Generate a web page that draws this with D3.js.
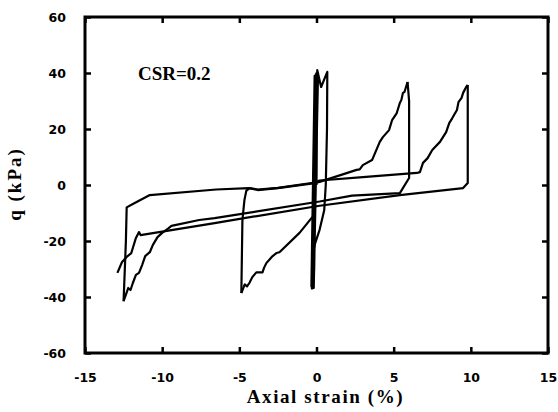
<!DOCTYPE html>
<html>
<head>
<meta charset="utf-8">
<script src="https://cdn.jsdelivr.net/npm/d3@7"></script>
<style>
    body { margin: 0; background: #fff; }
    .tick text { font-family: "DejaVu Sans", sans-serif; font-weight: bold; font-size: 12.5px; fill: #000; }
    .tick line { stroke: #000; stroke-width: 2.5; }
    .domain { display: none; }
    .title { font-family: "Liberation Serif", "Times New Roman", serif; font-weight: bold; fill: #000; }
</style>
</head>
<body>
<div class="chart"></div>
<script>
// tick values
const xTicks = [-15, -10, -5, 0, 5, 10, 15];
const yTicks = [-60, -40, -20, 0, 20, 40, 60];

// [axial strain %, q kPa], in loading order
const smallCycles = [[0,0],[0.05,38],[-0.15,-30],[-0.2,-36],[0.02,39],[-0.25,-36.5],[0.06,40],
    [-0.3,-37],[-0.05,39.5],[-0.28,-36],[0.1,40],[-0.18,-36.8],[-0.12,39],[-0.33,-36.2],[0,40],
    [-0.3,-37],[-0.1,-10],[0.05,41],[0.3,35],[0.7,40.4],[0.68,20],[0.6,0],[0.5,-9],[0.2,-16],
    [-0.1,-21],[-0.25,-30],[-0.3,-36.5],[-0.15,-20],[-0.26,-11.4]];

const extension1 = [[-0.26,-11.4],[-1.1,-17.1],[-2.4,-24],[-2.6,-24.3],[-2.9,-25.7],[-3.25,-27.9],
    [-3.4,-29.6],[-3.5,-31.2],[-3.9,-31.2],[-4.16,-32.9],[-4.35,-35],[-4.5,-36.2],[-4.65,-35.5],[-4.87,-38.6]];

const compression1 = [[-4.87,-38.6],[-4.8,-12.5],[-4.67,-5.4],[-4.55,-2.1],[-4.35,-1.1],[-3.8,-1.8],
    [-2.5,-1.1],[-0.1,0.7],[0.2,1.1],[2.6,5.4],[2.8,5.6],[3,7.1],[3.6,8.9],[4.1,15.4],[4.3,17.1],
    [4.7,19.6],[4.9,23.2],[5.2,25.7],[5.4,29.3],[5.5,30.4],[5.6,32.9],[5.7,33.2],[5.8,35],[5.9,36.8]];

const extension2 = [[5.9,36.8],[6.0,30],[6.0,2.5],[5.4,-2.9],[2.3,-3.8],[0.2,-5.9],[-6.6,-11.8],
    [-7.6,-12.5],[-9.4,-14.6],[-9.6,-15.5],[-10,-17.1],[-10.3,-18.6],[-10.6,-21.4],[-10.8,-24],
    [-11.1,-25.4],[-11.3,-28.6],[-11.5,-31.4],[-11.7,-32.1],[-11.9,-35],[-12.05,-37.5],[-12.2,-36.8],[-12.5,-41.5]];

const compression2 = [[-12.5,-41.5],[-12.35,-20],[-12.3,-8],[-11.9,-6.8],[-10.8,-3.6],[-6.5,-1.6],
    [-4.4,-1.1],[-3.8,-1.6],[-2.5,-1.0],[-0.1,0.9],[0.2,1.6],[3,2.8],[6.5,4.3],[6.7,4.6],[6.9,7.9],
    [7.2,9.6],[7.5,12.5],[8,15.4],[8.4,18.9],[8.6,22.1],[8.8,23.9],[9.1,26.8],[9.2,29.6],[9.4,31.1],
    [9.5,32.9],[9.7,35],[9.8,35.7]];

const extension3 = [[9.8,35.7],[9.8,0.7],[9.5,-1.1],[5.4,-3.6],[0.2,-7.4],[-6.6,-13.6],[-11.4,-17.9],
    [-11.5,-16.8],[-11.7,-18.9],[-12,-24.3],[-12.3,-25.7],[-12.6,-27.5],[-12.9,-31.4]];

const segments = [smallCycles, extension1, compression1, extension2, compression2, extension3];

// margin
const margin = ({top: 17, right: 10, bottom: 59, left: 85});
const width = 558 - margin.left - margin.right,
    height = 412 - margin.top - margin.bottom;

const svg = d3.select(".chart")
    .append("svg")
    .attr("width", width + margin.left + margin.right)
    .attr("height", height + margin.top + margin.bottom)
    .append("g")
    .attr("transform", "translate(" + margin.left + "," + margin.top + ")");

// scales
const xScale = d3.scaleLinear()
    .domain([-15, 15])
    .range([0, width]);

const yScale = d3.scaleLinear()
    .domain([-60, 60])
    .range([height, 0]);

// plain hyphen for negatives, like the original
const fmt = d => String(d);

// axes, ticks point inward on all four sides
svg.append("g")
    .attr("transform", "translate(0," + height + ")")
    .call(d3.axisBottom(xScale).tickValues(xTicks).tickFormat(fmt).tickSizeInner(-6).tickSizeOuter(0).tickPadding(20));

svg.append("g")
    .call(d3.axisTop(xScale).tickValues(xTicks).tickSizeInner(-6).tickSizeOuter(0).tickFormat(""));

svg.append("g")
    .call(d3.axisLeft(yScale).tickValues(yTicks).tickFormat(fmt).tickSizeInner(-6).tickSizeOuter(0).tickPadding(19));

svg.append("g")
    .attr("transform", "translate(" + width + ",0)")
    .call(d3.axisRight(yScale).tickValues(yTicks).tickSizeInner(-6).tickSizeOuter(0).tickFormat(""));

// frame
svg.append("rect")
    .attr("width", width)
    .attr("height", height)
    .attr("fill", "none")
    .attr("stroke", "#000")
    .attr("stroke-width", 3);

// curve
const line = d3.line()
    .x(d => xScale(d[0]))
    .y(d => yScale(d[1]));

svg.selectAll(".loop")
    .data(segments)
    .join("path")
    .attr("class", "loop")
    .attr("d", line)
    .attr("fill", "none")
    .attr("stroke", "#000")
    .attr("stroke-width", 2.2)
    .attr("stroke-linejoin", "round");

// labels
svg.append("text")
    .attr("class", "title")
    .attr("x", width / 2 + 9)
    .attr("y", height + 50)
    .attr("text-anchor", "middle")
    .style("font-size", "19px")
    .style("letter-spacing", "1.6px")
    .text("Axial strain (%)");

svg.append("text")
    .attr("class", "title")
    .attr("transform", "translate(" + (-64) + "," + (height / 2 - 1) + ") rotate(-90)")
    .attr("text-anchor", "middle")
    .style("font-size", "19px")
    .style("letter-spacing", "2px")
    .text("q (kPa)");

svg.append("text")
    .attr("class", "title")
    .attr("x", 53)
    .attr("y", 63)
    .style("font-size", "19px")
    .text("CSR=0.2");
</script>
</body>
</html>
